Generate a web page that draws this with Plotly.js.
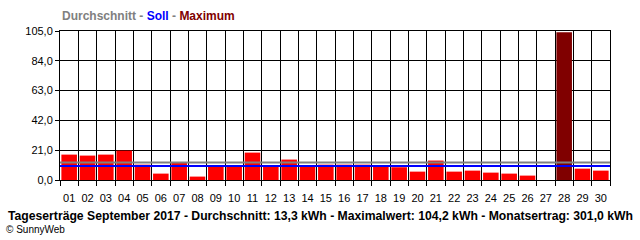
<!DOCTYPE html>
<html>
<head>
<meta charset="utf-8">
<script src="https://cdn.plot.ly/plotly-3.0.1.min.js"></script>
<style>
html,body{margin:0;padding:0;background:#fff;}
#chart{width:640px;height:240px;}
</style>
</head>
<body>
<div id="chart"></div>
<script>
const days = ["01","02","03","04","05","06","07","08","09","10","11","12","13","14","15","16","17","18","19","20","21","22","23","24","25","26","27","28","29","30"];
const yields = [17.9,17.2,17.9,20.7,10.8,4.5,12.5,2.4,10.0,10.0,19.3,10.0,14.4,10.0,10.8,10.8,10.8,10.1,9.0,5.9,13.7,5.9,6.6,5.2,4.5,3.1,0,104.2,8.0,6.6];
const averageLine = 12.4;
const targetLine = 9.9;
const yTickVals = [0,21,42,63,84,105];
const yTickText = ["0,0","21,0","42,0","63,0","84,0","105,0"];
const maxValue = Math.max(...yields);
const barColors = yields.map(v => v === maxValue ? "#800000" : "#ff0000");

const bars = {
  type: "bar",
  x: days,
  y: yields,
  marker: {color: barColors, line: {width: 0}},
  hoverinfo: "skip"
};
// invisible companion trace that carries the day labels axis
const labelCarrier = {
  type: "scatter", mode: "none",
  x: days, y: yields,
  xaxis: "x2", yaxis: "y",
  hoverinfo: "skip", showlegend: false
};

const font = {family: "Liberation Sans, Arial, sans-serif", size: 11, color: "#000"};
const catRange = [-0.5, days.length - 0.5];

const layout = {
  width: 640, height: 240,
  margin: {l: 60, r: 30, t: 31, b: 60, pad: 0},
  paper_bgcolor: "#fff", plot_bgcolor: "#fff",
  bargap: 0.15,
  showlegend: false,
  font: font,
  xaxis: {
    type: "category", range: catRange,
    tickson: "boundaries",
    ticks: "outside", ticklen: 5, tickcolor: "#000", tickwidth: 1,
    showticklabels: false,
    showgrid: true, gridcolor: "#000", gridwidth: 1,
    showline: true, linecolor: "#000", linewidth: 1, mirror: true,
    fixedrange: true
  },
  xaxis2: {
    type: "category", range: catRange,
    overlaying: "x", anchor: "y", side: "bottom",
    tickangle: 0,
    ticks: "outside", ticklen: 8, tickcolor: "rgba(0,0,0,0)", tickwidth: 1,
    showticklabels: true, showgrid: false, showline: false, zeroline: false,
    tickfont: font, fixedrange: true
  },
  yaxis: {
    range: [0, 105],
    tickvals: yTickVals, ticktext: yTickText,
    ticks: "outside", ticklen: 4, tickcolor: "#000", tickwidth: 1,
    showgrid: true, gridcolor: "#000", gridwidth: 1,
    zeroline: false,
    showline: true, linecolor: "#000", linewidth: 1, mirror: true,
    tickfont: font, fixedrange: true
  },
  shapes: [
    {type: "line", xref: "paper", yref: "y", x0: 0, x1: 1, y0: averageLine, y1: averageLine, line: {color: "#808080", width: 2}, layer: "above"},
    {type: "line", xref: "paper", yref: "y", x0: 0, x1: 1, y0: targetLine, y1: targetLine, line: {color: "#0000ff", width: 2}, layer: "above"}
  ],
  annotations: [
    {xref: "paper", yref: "paper", x: 0, y: 1, xanchor: "left", yanchor: "bottom", yshift: 6, showarrow: false,
     font: {family: "Liberation Sans, Arial, sans-serif", size: 12, color: "#808080"},
     text: "<b><span style='color:#808080'>Durchschnitt</span> - <span style='color:#0000ff'>Soll</span> - <span style='color:#800000'>Maximum</span></b>"},
    {xref: "paper", yref: "paper", x: -0.0982, y: 0, xanchor: "left", yanchor: "middle", yshift: -36, showarrow: false,
     font: {family: "Liberation Sans, Arial, sans-serif", size: 12.2, color: "#000"},
     text: "<b>Tageserträge September 2017 - Durchschnitt: 13,3 kWh - Maximalwert: 104,2 kWh - Monatsertrag: 301,0 kWh</b>"},
    {xref: "paper", yref: "paper", x: -0.1018, y: 0, xanchor: "left", yanchor: "middle", yshift: -49, showarrow: false,
     font: {family: "Liberation Sans, Arial, sans-serif", size: 10, color: "#000"},
     text: "© SunnyWeb"}
  ]
};

Plotly.newPlot("chart", [bars, labelCarrier], layout, {staticPlot: true, displayModeBar: false});
</script>
</body>
</html>
